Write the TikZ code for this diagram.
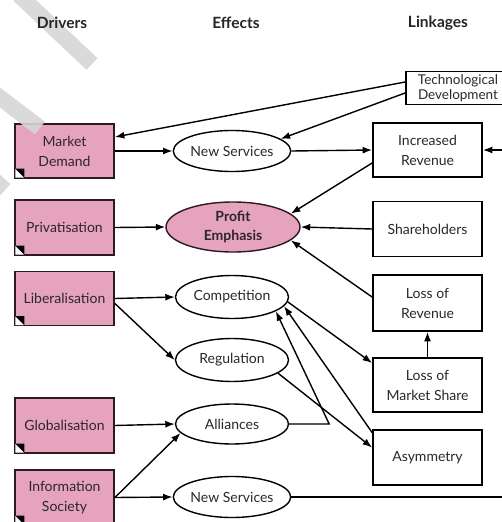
\documentclass[tikz,border=0pt]{standalone}
\usepackage{fontspec}
\setmainfont{Lato}
\usetikzlibrary{arrows.meta,shapes.geometric,calc}
\definecolor{pinkfill}{RGB}{230,163,190}
\definecolor{boxedge}{RGB}{45,25,35}
\definecolor{txt}{RGB}{45,38,42}
\definecolor{wm}{RGB}{214,214,214}
\newcommand\drvmark[1]{%
  \fill[white] ($(#1.south west)+(1.2,-1.2)$) -- ++(0,-9) -- ++(9,9) -- cycle;
  \fill[black] ($(#1.south west)+(1.2,-10.2)$) -- ++(9,0) -- ++(0,9) -- cycle;}
\tikzset{
  head/.style={font=\bfseries\fontsize{15.5}{17}\selectfont, text=black!85},
  driver/.style={draw=boxedge, line width=1.8pt, fill=pinkfill, minimum width=99pt,
    minimum height=54pt, align=center, inner sep=0pt, text=txt,
    font=\fontsize{14}{20}\selectfont},
  effect/.style={ellipse, draw=black, line width=1.4pt, fill=white, minimum width=113pt,
    minimum height=41pt, inner sep=0pt, align=center, text=txt,
    font=\fontsize{14}{20}\selectfont},
  link/.style={draw=black, line width=1.8pt, fill=white, minimum width=109pt,
    minimum height=54pt, align=center, inner sep=0pt, text=txt,
    font=\fontsize{14}{20}\selectfont},
  conn/.style={line width=1.4pt, draw=black, -{Latex[length=9.5pt,width=7pt]}},
  plain/.style={line width=1.4pt, draw=black},
  wmband/.style={draw=wm, line width=16pt, opacity=0.9}
}
\begin{document}
\begin{tikzpicture}[x=1pt,y=-1pt]
\useasboundingbox (0,0) rectangle (502,522);
\clip (0,0) rectangle (502,522);
\fill[white] (0,0) rectangle (502,522);

% drivers
\node[driver] (md) at (64.5,151) {Market\\Demand};
\node[driver, minimum height=55pt] (pr) at (64.5,227.5) {Privatisation};
\node[driver] (li) at (64.5,298.5) {Liberalisation};
\node[driver, minimum height=55pt] (gl) at (64.5,425.5) {Globalisation};
\node[driver, minimum height=55pt] (is) at (64.5,497.5) {Information\\Society};
\drvmark{md}\drvmark{pr}\drvmark{li}\drvmark{gl}\drvmark{is}

% effects
\node[effect] (ns1) at (232,151) {New Services};
\node[effect, fill=pinkfill, draw=boxedge, minimum width=134pt, minimum height=50pt,
  font=\bfseries\fontsize{14}{19}\selectfont] (pe) at (233,227) {Profit\\Emphasis};
\node[effect, minimum height=43pt] (co) at (232,297) {Competition};
\node[effect, minimum height=43pt] (re) at (232,360) {Regulation};
\node[effect, minimum height=40pt] (al) at (232,424) {Alliances};
\node[effect] (ns2) at (232,497) {New Services};

% linkages
\node[link, minimum width=104pt, minimum height=33pt, inner ysep=1.5pt,
  font=\fontsize{13.5}{15}\selectfont] (td) at (458,88) {Technological\\Development};
\node[link] (ir) at (427.5,150) {Increased\\Revenue};
\node[link, minimum height=55pt] (sh) at (427.5,229) {Shareholders};
\node[link, minimum height=56pt] (lr) at (427.5,303) {Loss of\\Revenue};
\node[link] (lm) at (427.5,385) {Loss of\\Market Share};
\node[link, minimum height=55pt] (as) at (427.5,457.5) {Asymmetry};

\coordinate (irin) at (503,150);
\coordinate (nsout) at (503,497);

% connectors
\draw[conn] ([yshift=6pt]td.west) -- ([yshift=14pt]md.east);
\draw[conn] ([yshift=-5pt]td.west) -- (ns1.14);
\draw[conn] (md.east) -- (ns1.west);
\draw[conn] (ns1.east) -- (ir.west);
\draw[conn] (irin) -- (ir.east);
\draw[conn] ([yshift=-13pt]ir.west) -- (pe.13);
\draw[conn] (pr.east) -- (pe.west);
\draw[conn] (sh.west) -- (pe.east);
\draw[conn] ([yshift=6pt]lr.west) -- (pe.-13);
\draw[conn] (li.east) -- (co.west);
\draw[conn] ([yshift=-5pt]li.east) -- (re.west);
\draw[conn] (lm.north) -- (lr.south);
\draw[conn] (co.-5) -- ([yshift=22pt]lm.west);
\draw[conn] (re.-16) -- ([yshift=10pt]as.west);
\draw[conn] ([yshift=25pt]as.west) -- (co.-10);
\draw[conn] (al.east) -- ++(40,0) -- (co.-18);
\draw[conn] (gl.east) -- (al.west);
\draw[conn] (is.east) -- (al.190);
\draw[conn] (is.east) -- (ns2.west);
\draw[plain] (ns2.east) -- (nsout);

% watermark strokes
\draw[wmband] (19,-5) -- (92,64);
\draw[wmband] (-10,90) -- (40,128);
\draw[wmband] (-15,172) -- (5,190);

% headers
\node[head] (hd) at (62,23) {Drivers};
\node[head] (he) at (236,23) {Effects};
\node[head] (hl) at (438,23) {Linkages};
\end{tikzpicture}
\end{document}
